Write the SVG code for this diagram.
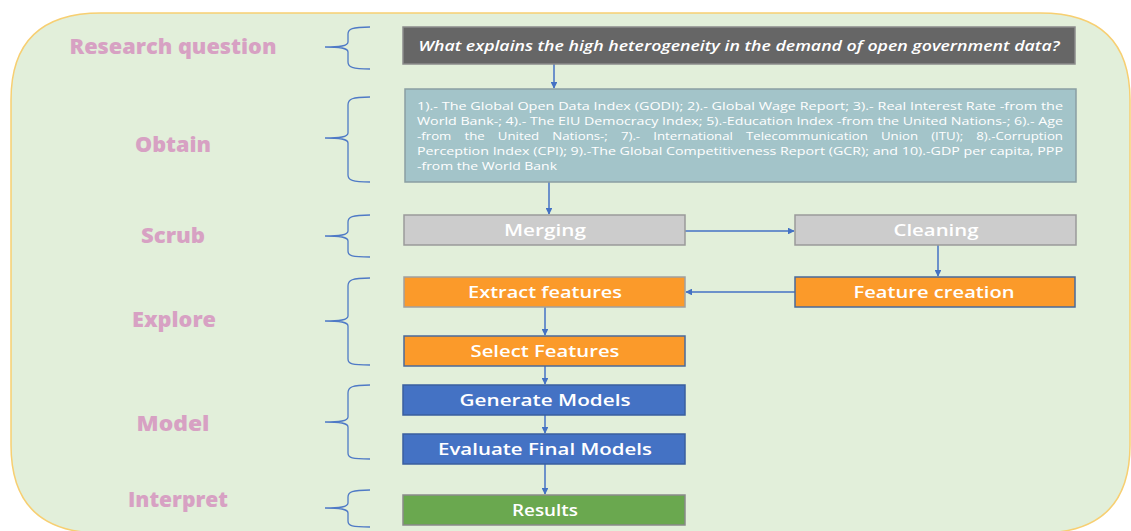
<svg xmlns="http://www.w3.org/2000/svg" width="1131" height="531" viewBox="0 0 1131 531">
<defs>
<marker id="ah" viewBox="0 0 10 10" refX="9" refY="5" markerWidth="4.5" markerHeight="4.5" orient="auto-start-reverse" markerUnits="strokeWidth">
<path d="M0,0 L10,5 L0,10 z" fill="#4472c4"/>
</marker>
<style>
.stage{font-family:"Open Sans","Noto Sans",sans-serif;font-weight:800;font-size:21px;fill:#d7a1c3;text-anchor:middle}
.brace{fill:none;stroke:#4f7ac6;stroke-width:1.3}
.box{stroke-width:1.5}
.lbl{font-family:"Open Sans","Noto Sans",sans-serif;font-weight:600;font-size:16.5px;fill:#ffffff;text-anchor:middle}
.src{font-family:"Open Sans","Noto Sans",sans-serif;font-size:11px;fill:#ffffff}
.conn{fill:none;stroke:#4472c4;stroke-width:1.5;marker-end:url(#ah)}
</style>
</defs>
<rect width="1131" height="531" fill="#ffffff"/>
<path d="M101,13 L1040,13 Q1130,13 1130,100 L1130,445 Q1130,533 1040,533 L101,533 Q11,533 11,445 L11,100 Q11,13 101,13 Z" fill="#e2efda" stroke="#f7cf72" stroke-width="1.5"/>

<g id="stage-labels">
<text class="stage" x="173" y="54" textLength="207" lengthAdjust="spacingAndGlyphs">Research question</text>
<text class="stage" x="173" y="152" textLength="76" lengthAdjust="spacingAndGlyphs">Obtain</text>
<text class="stage" x="173" y="243" textLength="64" lengthAdjust="spacingAndGlyphs">Scrub</text>
<text class="stage" x="174" y="327" textLength="84" lengthAdjust="spacingAndGlyphs">Explore</text>
<text class="stage" x="173" y="431" textLength="73" lengthAdjust="spacingAndGlyphs">Model</text>
<text class="stage" x="178" y="507" textLength="100" lengthAdjust="spacingAndGlyphs">Interpret</text>
</g>

<g id="braces">
<path class="brace" d="M370,27 C352,27 348,29 348,34 L348,42 C348,46 340,47 325,47 C340,47 348,48 348,52 L348,62 C348,67 352,69 370,69"/>
<path class="brace" d="M370,97 C352,97 348,99 348,105 L348,133 C348,137 340,138 325,138 C340,138 348,139 348,143 L348,175 C348,180 352,182 370,182"/>
<path class="brace" d="M370,215 C352,215 348,217 348,222 L348,231 C348,235 340,236 325,236 C340,236 348,237 348,241 L348,251 C348,256 352,257 370,257"/>
<path class="brace" d="M370,278 C352,278 348,280 348,286 L348,316 C348,320 340,321 325,321 C340,321 348,322 348,326 L348,359 C348,364 352,365 370,365"/>
<path class="brace" d="M370,385 C352,385 348,387 348,393 L348,417 C348,421 340,422 325,422 C340,422 348,423 348,427 L348,453 C348,458 352,459 370,459"/>
<path class="brace" d="M370,490 C352,490 348,492 348,497 L348,503 C348,507 340,508 325,508 C340,508 348,509 348,513 L348,521 C348,526 352,527 370,527"/>
</g>

<g id="connectors">
<line class="conn" x1="554" y1="64" x2="554" y2="88"/>
<line class="conn" x1="549" y1="182" x2="549" y2="214"/>
<line class="conn" x1="685" y1="231" x2="794" y2="231"/>
<line class="conn" x1="938" y1="245" x2="938" y2="276"/>
<line class="conn" x1="795" y1="292" x2="686" y2="292"/>
<line class="conn" x1="545" y1="307" x2="545" y2="335"/>
<line class="conn" x1="545" y1="366" x2="545" y2="384"/>
<line class="conn" x1="545" y1="415" x2="545" y2="433"/>
<line class="conn" x1="545" y1="464" x2="545" y2="494"/>
</g>

<g id="question">
<rect class="box" x="403" y="27" width="672" height="37" fill="#666666" stroke="#8c8c8c"/>
<text x="739" y="51" font-family="'Open Sans','Noto Sans',sans-serif" font-style="italic" font-weight="600" font-size="15" fill="#ffffff" text-anchor="middle" textLength="641" lengthAdjust="spacingAndGlyphs">What explains the high heterogeneity in the demand of open government data?</text>
</g>

<g id="obtain">
<rect class="box" x="405" y="89" width="671" height="93" fill="#a3c4c9" stroke="#8a9ea2"/>
<text class="src" x="417" y="110" textLength="646" lengthAdjust="spacingAndGlyphs">1).- The Global Open Data Index (GODI);  2).- Global Wage Report; 3).- Real Interest Rate -from the</text>
<text class="src" x="417" y="125" textLength="646" lengthAdjust="spacingAndGlyphs">World Bank-;  4).- The EIU Democracy Index; 5).-Education Index -from the United Nations-; 6).- Age</text>
<text class="src" x="417" y="140" word-spacing="8" textLength="646" lengthAdjust="spacingAndGlyphs">-from the United Nations-; 7).- International Telecommunication Union (ITU); 8).-Corruption</text>
<text class="src" x="417" y="155" textLength="646" lengthAdjust="spacingAndGlyphs">Perception Index (CPI); 9).-The Global Competitiveness Report (GCR);  and  10).-GDP per capita, PPP</text>
<text class="src" x="417" y="170" textLength="140" lengthAdjust="spacingAndGlyphs">-from the World Bank</text>
</g>

<g id="merging">
<rect class="box" x="404" y="215" width="281" height="30" fill="#cccccc" stroke="#9a9a9a"/>
<text class="lbl" x="545" y="236" textLength="82" lengthAdjust="spacingAndGlyphs">Merging</text>
</g>
<g id="cleaning">
<rect class="box" x="795" y="215" width="281" height="30" fill="#cccccc" stroke="#9a9a9a"/>
<text class="lbl" x="936" y="236" textLength="85" lengthAdjust="spacingAndGlyphs">Cleaning</text>
</g>
<g id="extract">
<rect class="box" x="404" y="277" width="281" height="30" fill="#fb9a2a" stroke="#a0a0a0"/>
<text class="lbl" x="545" y="298" textLength="154" lengthAdjust="spacingAndGlyphs">Extract features</text>
</g>
<g id="feature-creation">
<rect class="box" x="795" y="277" width="280" height="30" fill="#fb9a2a" stroke="#4a6a9a"/>
<text class="lbl" x="934" y="298" textLength="161" lengthAdjust="spacingAndGlyphs">Feature creation</text>
</g>
<g id="select">
<rect class="box" x="404" y="336" width="281" height="30" fill="#fb9a2a" stroke="#4a6a9a"/>
<text class="lbl" x="545" y="357" textLength="149" lengthAdjust="spacingAndGlyphs">Select Features</text>
</g>
<g id="generate">
<rect class="box" x="403" y="385" width="282" height="30" fill="#4472c4" stroke="#3a5f9f"/>
<text class="lbl" x="545" y="406" textLength="171" lengthAdjust="spacingAndGlyphs">Generate Models</text>
</g>
<g id="evaluate">
<rect class="box" x="403" y="434" width="282" height="30" fill="#4472c4" stroke="#3a5f9f"/>
<text class="lbl" x="545" y="455" textLength="214" lengthAdjust="spacingAndGlyphs">Evaluate Final Models</text>
</g>
<g id="results">
<rect class="box" x="403" y="495" width="282" height="30" fill="#6aa84f" stroke="#8a8a8a"/>
<text class="lbl" x="545" y="516" textLength="66" lengthAdjust="spacingAndGlyphs">Results</text>
</g>
</svg>
